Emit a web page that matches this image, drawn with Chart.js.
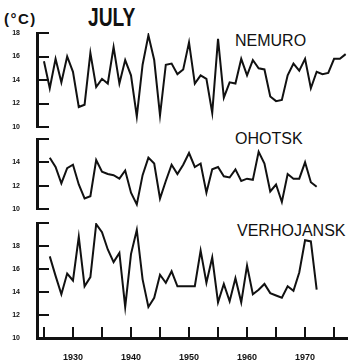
<!DOCTYPE html>
<html>
<head>
<meta charset="utf-8">
<script src="https://cdn.jsdelivr.net/npm/chart.js@4.4.1/dist/chart.umd.min.js"></script>
<style>
  body { margin: 0; background: #fff; }
  #wrap { position: relative; width: 348px; height: 364px; overflow: hidden; background: #fff; }
  canvas { position: absolute; left: 0; }
  .lbl { position: absolute; font-family: "Liberation Sans", Arial, sans-serif; color: #111; white-space: nowrap; line-height: normal; }
</style>
</head>
<body>
<div id="wrap">
  <div class="lbl" style="left:4px;top:10px;font-size:15px;font-weight:bold;letter-spacing:1.5px;">(°C)</div>
  <div class="lbl" style="left:88px;top:3px;font-size:25px;font-weight:bold;transform:scaleX(0.77);transform-origin:left top;">JULY</div>
  <div class="lbl" style="left:235px;top:32px;font-size:16px;">NEMURO</div>
  <div class="lbl" style="left:235px;top:130px;font-size:16px;">OHOTSK</div>
  <div class="lbl" style="left:237px;top:222px;font-size:16px;">VERHOJANSK</div>
  <canvas id="nemuro" width="348" height="110" style="top:25px"></canvas>
  <canvas id="ohotsk" width="348" height="86" style="top:131px"></canvas>
  <canvas id="verhojansk" width="348" height="149" style="top:215px"></canvas>
</div>
<script>
// July mean temperature (°C), one value per year
const years = [1925, 1926, 1927, 1928, 1929, 1930, 1931, 1932, 1933, 1934,
  1935, 1936, 1937, 1938, 1939, 1940, 1941, 1942, 1943, 1944,
  1945, 1946, 1947, 1948, 1949, 1950, 1951, 1952, 1953, 1954,
  1955, 1956, 1957, 1958, 1959, 1960, 1961, 1962, 1963, 1964,
  1965, 1966, 1967, 1968, 1969, 1970, 1971, 1972, 1973, 1974,
  1975, 1976, 1977];

const nemuro = [15.6, 13.3, 15.8, 13.8, 16.0, 14.7, 11.7, 11.9, 16.3, 13.4,
  14.1, 13.7, 16.8, 13.7, 15.7, 14.4, 10.9, 15.3, 17.8, 15.7,
  11.0, 15.3, 15.4, 14.5, 14.9, 17.2, 13.7, 14.4, 14.1, 11.2,
  17.5, 12.5, 13.8, 13.7, 15.8, 14.4, 15.7, 15.0, 14.9, 12.6,
  12.2, 12.3, 14.4, 15.4, 14.8, 15.8, 13.3, 14.7, 14.5, 14.6,
  15.8, 15.8, 16.2];

const ohotsk = [null, 14.4, 13.6, 12.2, 13.5, 13.8, 12.1, 10.9, 11.1, 14.2,
  13.2, 13.0, 12.9, 12.6, 13.3, 11.4, 10.4, 12.9, 14.4, 13.9,
  10.9, 12.4, 13.8, 13.0, 13.8, 14.8, 13.6, 13.9, 11.4, 13.4,
  13.6, 12.8, 12.7, 13.4, 12.4, 12.6, 12.5, 14.9, 13.9, 11.5,
  12.1, 10.6, 13.0, 12.6, 12.6, 14.0, 12.3, 11.9, null, null,
  null, null, null];

const verhojansk = [null, 17.1, 15.4, 13.8, 15.6, 15.0, 18.8, 14.5, 15.3, 19.9,
  19.2, 17.7, 16.6, 17.4, 12.7, 17.3, 19.4, 15.1, 12.7, 13.5,
  15.5, 14.8, 15.8, 14.5, 14.5, 14.5, 14.5, 17.6, 14.8, 17.0,
  13.1, 14.7, 13.2, 15.2, 13.1, 16.3, 13.8, 14.2, 14.7, 13.9,
  13.7, 13.5, 14.5, 14.1, 15.7, 18.5, 18.4, 14.2, null, null,
  null, null, null];

const xTicks = [1925, 1930, 1935, 1940, 1945, 1950, 1955, 1960, 1965, 1970, 1975];
const xLabelled = [1930, 1940, 1950, 1960, 1970];

const ink = "#111";

// tick marks in the original point inward, so draw them off the scales ourselves
const inwardTicks = {
  id: "inwardTicks",
  afterDraw(chart) {
    const ctx = chart.ctx;
    const area = chart.chartArea;
    ctx.save();
    ctx.strokeStyle = ink;
    ctx.lineWidth = 2;
    ctx.beginPath();
    const y = chart.scales.y;
    y.ticks.forEach((t) => {
      const py = Math.round(y.getPixelForValue(t.value));
      ctx.moveTo(area.left, py);
      ctx.lineTo(area.left + 12, py);
    });
    const x = chart.scales.x;
    if (x.options.display) {
      x.ticks.forEach((t) => {
        const px = Math.round(x.getPixelForValue(t.value));
        ctx.moveTo(px, area.bottom);
        ctx.lineTo(px, area.bottom - 11);
      });
    }
    ctx.stroke();
    ctx.restore();
  },
};

function makePanel(id, values, yMax, labelTop, withXAxis) {
  new Chart(document.getElementById(id), {
    type: "line",
    data: {
      datasets: [
        {
          data: years.map((yr, i) => ({ x: yr, y: values[i] })),
          borderColor: ink,
          borderWidth: 2,
          pointRadius: 0,
          tension: 0,
          fill: false,
        },
      ],
    },
    options: {
      responsive: false,
      animation: false,
      devicePixelRatio: 1,
      layout: {
        autoPadding: false,
        padding: { top: 8, bottom: withXAxis ? 0 : 8, left: 0, right: 0 },
      },
      plugins: { legend: { display: false }, tooltip: { enabled: false } },
      scales: {
        x: {
          type: "linear",
          display: withXAxis,
          min: 1923.8,
          max: 1977.4,
          afterBuildTicks: (scale) => {
            scale.ticks = xTicks.map((v) => ({ value: v }));
          },
          afterFit: (scale) => {
            if (withXAxis) scale.height = 26;
            scale.paddingLeft = 0;
            scale.paddingRight = 0;
          },
          grid: { display: false, drawTicks: false },
          border: { display: true, color: ink, width: 3 },
          ticks: {
            autoSkip: false,
            maxRotation: 0,
            padding: 14,
            color: ink,
            font: { family: "Liberation Sans", size: 9, weight: "bold" },
            callback: (v) => (xLabelled.includes(v) ? String(v) : ""),
          },
        },
        y: {
          min: 10,
          max: yMax,
          afterFit: (scale) => {
            // keep the label gap from pushing the plot area in
            scale.width = 37;
            scale.paddingTop = 0;
            scale.paddingBottom = 0;
          },
          grid: { display: false, drawTicks: false },
          border: { display: true, color: ink, width: 3 },
          ticks: {
            stepSize: 2,
            padding: 17,
            color: ink,
            font: { family: "Liberation Sans", size: 7, weight: "bold" },
            callback: (v) => (v === yMax && !labelTop ? "" : String(v)),
          },
        },
      },
    },
    plugins: [inwardTicks],
  });
}

makePanel("nemuro", nemuro, 18, true, false);
makePanel("ohotsk", ohotsk, 16, false, false);
makePanel("verhojansk", verhojansk, 20, false, true);
</script>
</body>
</html>
